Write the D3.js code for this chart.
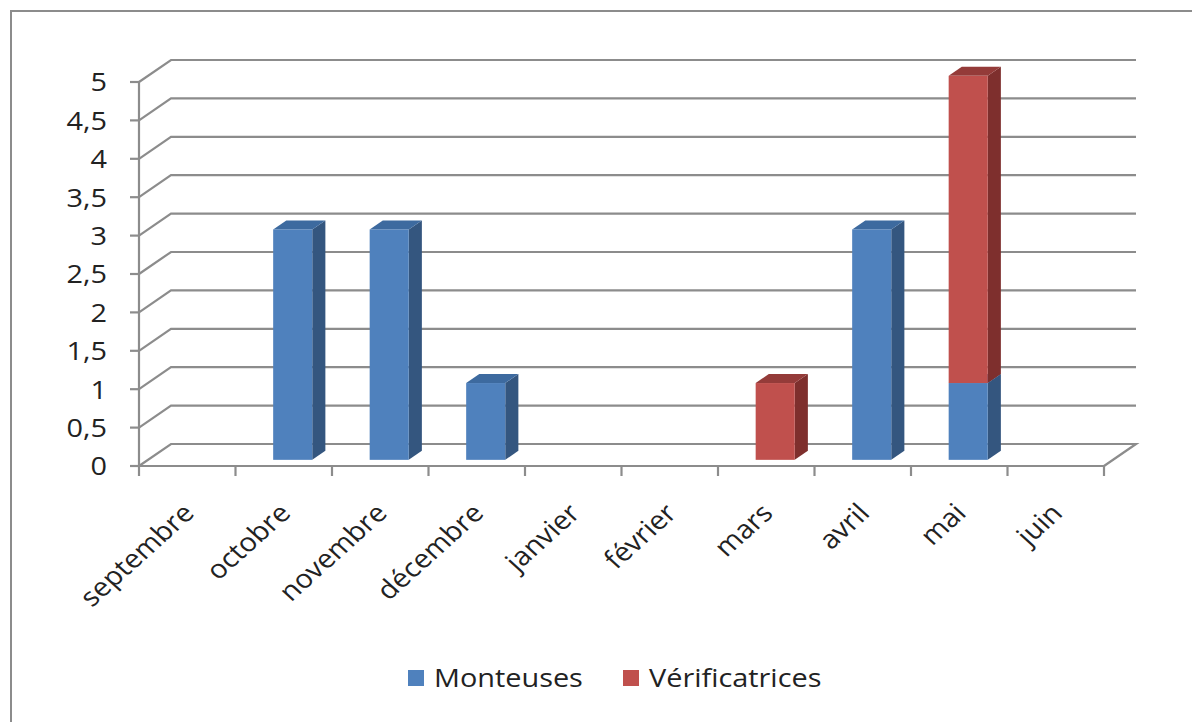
<!DOCTYPE html>
<html>
<head>
<meta charset="utf-8">
<script src="https://cdn.jsdelivr.net/npm/d3@7"></script>
<style>
  html, body { margin: 0; padding: 0; background: #fff; }
  svg { display: block; font-family: "Open Sans", sans-serif; }
</style>
</head>
<body>
<svg width="1192" height="722"></svg>
<script>
const months = ["septembre", "octobre", "novembre", "décembre", "janvier", "février", "mars", "avril", "mai", "juin"];
const monteuses = [0, 3, 3, 1, 0, 0, 0, 3, 1, 0];
const verificatrices = [0, 0, 0, 0, 0, 0, 1, 0, 4, 0];
const seriesNames = ["Monteuses", "Vérificatrices"];
const yTicks = [0, 0.5, 1, 1.5, 2, 2.5, 3, 3.5, 4, 4.5, 5];

const colors = {
  Monteuses: {front: "#4f81bd", side: "#34567f", top: "#3d6a9f"},
  "Vérificatrices": {front: "#c0504d", side: "#7e2f2d", top: "#943b39"}
};

const svg = d3.select("svg");
const W = 1192, H = 722;
const fontSize = 26;
const stretch = 1.11; // text in the original is a bit wide

// depth vector of the 3d floor
const dX = 32, dY = -22;
const grid = "#8c8c8c";

const x = d3.scaleBand().domain(months).range([139, 1104]);
const y = d3.scaleLinear().domain([0, 5]).range([466, 82]);

// outer frame (only top/left visible in the original)
svg.append("rect")
  .attr("x", 11).attr("y", 11)
  .attr("width", W + 20).attr("height", H + 20)
  .attr("fill", "none").attr("stroke", "#8c8c8c").attr("stroke-width", 2);

const x0 = x.range()[0], x1 = x.range()[1];

// gridlines: side wall diagonal + back wall line
const gl = svg.append("g").attr("stroke", grid).attr("stroke-width", 2.2).attr("fill", "none");
yTicks.forEach(t => {
  if (t === 0) return;
  gl.append("path").attr("d", `M${x0},${y(t)}L${x0 + dX},${y(t) + dY}L${x1 + dX},${y(t) + dY}`);
});
// floor
gl.append("path").attr("d", `M${x0},${y(0)}L${x0 + dX},${y(0) + dY}L${x1 + dX},${y(0) + dY}L${x1},${y(0)}`);

// axes
const ax = svg.append("g").attr("stroke", grid).attr("stroke-width", 2.2).attr("fill", "none");
ax.append("line").attr("x1", x0).attr("x2", x0).attr("y1", y(5)).attr("y2", y(0));
ax.append("line").attr("x1", x0).attr("x2", x1).attr("y1", y(0)).attr("y2", y(0));
yTicks.forEach(t => {
  ax.append("line").attr("x1", x0 - 9).attr("x2", x0).attr("y1", y(t)).attr("y2", y(t));
});
months.concat([null]).forEach(m => {
  const xx = m ? x(m) : x1;
  ax.append("line").attr("x1", xx).attr("x2", xx).attr("y1", y(0)).attr("y2", y(0) + 10);
});

// y labels
svg.append("g").selectAll("text").data(yTicks).join("text")
  .attr("transform", d => `translate(107,${y(d)}) scale(${stretch},1)`)
  .attr("dy", "0.36em")
  .attr("text-anchor", "end").attr("font-size", fontSize).attr("fill", "#222")
  .text(d => String(d).replace(".", ","));

// x labels
svg.append("g").selectAll("text").data(months).join("text")
  .attr("transform", d => `translate(${x(d) + x.bandwidth() / 2 + 1},${508}) scale(${stretch},1) rotate(-45)`)
  .attr("dy", "0.36em")
  .attr("text-anchor", "end").attr("font-size", fontSize).attr("fill", "#222")
  .text(d => d);

// 3d stacked bars
const table = months.map((m, i) => ({month: m, Monteuses: monteuses[i], "Vérificatrices": verificatrices[i]}));
const stacked = d3.stack().keys(seriesNames)(table);

const f0 = 0.28, f1 = 0.69;
const bw = x.bandwidth() * 0.405;
const ox = f0 * dX, oy = f0 * dY;
const ddx = (f1 - f0) * dX, ddy = (f1 - f0) * dY;

const barG = svg.append("g");
months.forEach((m, i) => {
  stacked.forEach(s => {
    const d = s[i];
    if (d[1] - d[0] <= 0) return;
    const c = colors[s.key];
    const left = x(m) + (x.bandwidth() - bw) / 2 + ox;
    const R = left + bw;
    const yb = y(d[0]) + oy, yt = y(d[1]) + oy;
    // side
    barG.append("path")
      .attr("d", `M${R},${yb}L${R + ddx},${yb + ddy}L${R + ddx},${yt + ddy}L${R},${yt}Z`)
      .attr("fill", c.side);
    // top
    barG.append("path")
      .attr("d", `M${left},${yt}L${R},${yt}L${R + ddx},${yt + ddy}L${left + ddx},${yt + ddy}Z`)
      .attr("fill", c.top);
    // front
    barG.append("rect")
      .attr("x", left).attr("y", yt).attr("width", bw).attr("height", yb - yt)
      .attr("fill", c.front);
  });
});

// legend
const lg = svg.append("g").attr("font-size", fontSize).attr("fill", "#222");
const legendX = [408, 623];
seriesNames.forEach((n, i) => {
  lg.append("rect").attr("x", legendX[i]).attr("y", 670).attr("width", 16).attr("height", 16)
    .attr("fill", colors[n].front);
  lg.append("text")
    .attr("transform", `translate(${legendX[i] + 26},687) scale(${stretch},1)`)
    .text(n);
});
</script>
</body>
</html>
